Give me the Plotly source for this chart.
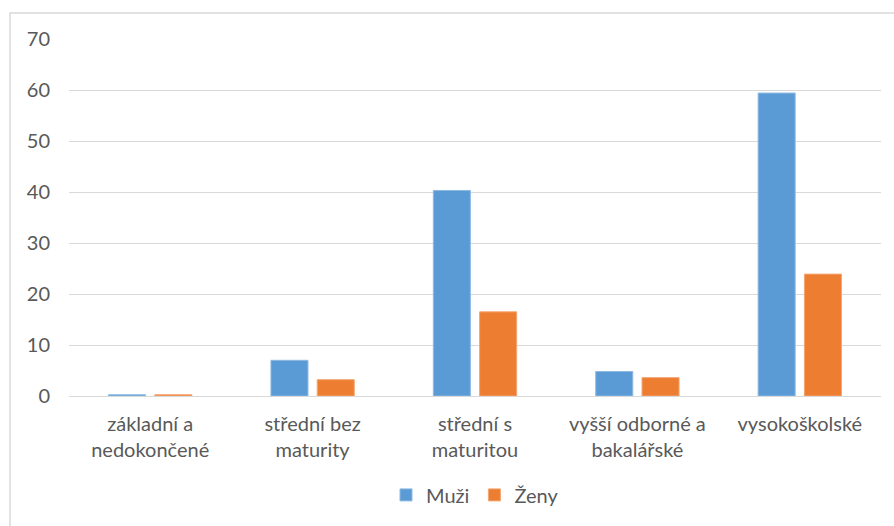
import plotly.graph_objects as go

categories = ["základní a<br>nedokončené", "střední bez<br>maturity", "střední s<br>maturitou",
              "vyšší odborné a<br>bakalářské", "vysokoškolské"]
muzi = [0.25, 7.0, 40.3, 4.8, 59.4]
zeny = [0.25, 3.2, 16.5, 3.6, 23.9]
y_ticks = [0, 10, 20, 30, 40, 50, 60, 70]

FONT = "Lato, 'Open Sans', sans-serif"
TXT = "#595959"

fig = go.Figure()
fig.add_trace(go.Bar(name="Muži", x=categories, y=muzi,
                     marker=dict(color="#5B9BD5", line=dict(color="#8DB9E4", width=1))))
fig.add_trace(go.Bar(name="Ženy", x=categories, y=zeny,
                     marker=dict(color="#ED7D31", line=dict(color="#F4A571", width=1))))

fig.update_layout(
    width=894, height=526,
    margin=dict(l=69, r=13, t=39, b=130),
    paper_bgcolor="white", plot_bgcolor="white",
    barmode="group", bargap=0.43, bargroupgap=0.2,
    font=dict(family=FONT, size=20, color=TXT),
    showlegend=True,
    legend=dict(orientation="h", x=0.5, xanchor="center", y=-0.277, yanchor="middle",
                font=dict(family=FONT, size=20, color=TXT), itemwidth=30,
                traceorder="normal"),
    xaxis=dict(showgrid=False, showline=False, ticks="", tickfont=dict(size=20, color=TXT),
               ticklabelstandoff=14),
    yaxis=dict(range=[0, 70], tickvals=y_ticks, showgrid=True, gridcolor="#D9D9D9",
               gridwidth=1.3, zeroline=True, zerolinecolor="#D9D9D9", zerolinewidth=1.3,
               showline=False, ticks="", ticklabelstandoff=18,
               tickfont=dict(size=20, color=TXT)),
    shapes=[dict(type="rect", xref="paper", yref="paper",
                 x0=(10 - 69) / 812, x1=(900 - 69) / 812,
                 y0=(396 - 540) / 357, y1=(396 - 13) / 357,
                 line=dict(color="#D9D9D9", width=1.5), fillcolor="rgba(0,0,0,0)",
                 layer="below")],
)

fig.write_html("out.html")
